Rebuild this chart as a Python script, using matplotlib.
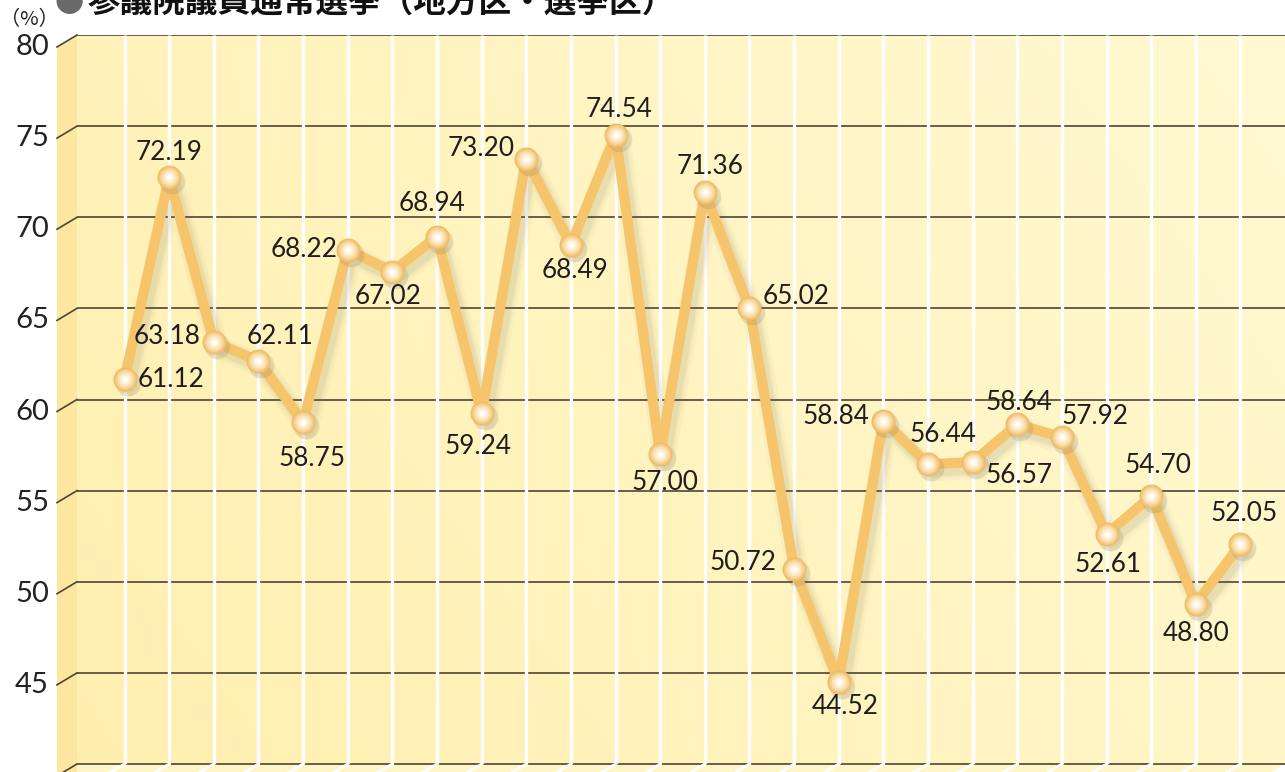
import numpy as np
import matplotlib
matplotlib.use('Agg')
import matplotlib.pyplot as plt
from matplotlib import transforms as mtransforms
from matplotlib.patches import Polygon
from matplotlib.lines import Line2D

# ---------------- data ----------------
title_mark = "●"
title = "参議院議員通常選挙（地方区・選挙区）"
unit_label = "（%）"
values = [61.12, 72.19, 63.18, 62.11, 58.75, 68.22, 67.02, 68.94, 59.24, 73.20,
          68.49, 74.54, 57.00, 71.36, 65.02, 50.72, 44.52, 58.84, 56.44, 56.57,
          58.64, 57.92, 52.61, 54.70, 48.80, 52.05]
y_ticks = [45, 50, 55, 60, 65, 70, 75, 80]
y_min, y_max = 40, 80

# label offsets (pixels, y up)
label_offsets = [(47, 0), (0, 25), (-47, 5), (22, 25), (9, -36), (-44, 0), (-4, -25),
                 (-5, 33), (-4, -33), (-45, 10), (4, -26), (4, 25), (5, -28), (5, 26),
                 (47, 12), (-51, 6), (6, -25), (-47, 4), (15, 30), (46, -13), (2, 22),
                 (33, 21), (1, -30), (7, 31), (0, -30), (4, 31)]

num_font = ['Lato', 'DejaVu Sans']
plt.rcParams['font.family'] = ['Lato', 'DejaVu Sans', 'Noto Sans CJK JP']

W, H, DPI = 1285, 772, 100
fig = plt.figure(figsize=(W / DPI, H / DPI), dpi=DPI)
fig.patch.set_facecolor('white')

L, R, T, B = 77, 1285, 35, 764
ax = fig.add_axes([L / W, 1 - B / H, (R - L) / W, (B - T) / H])
n = len(values)
xs = np.arange(n)
step = 44.64
x0 = -(124.5 - L) / step
x1 = x0 + (R - L) / step

# back wall gradient
gx = np.linspace(0, 1, 256)
gy = np.linspace(0, 1, 256)
GX, GY = np.meshgrid(gx, gy)
u = 0.7 * GX + 0.3 * GY
c0 = np.array([255, 239, 175]) / 255
c1 = np.array([255, 249, 210]) / 255
img = c0[None, None, :] * (1 - u[..., None]) + c1[None, None, :] * u[..., None]
ax.imshow(img, extent=[x0, x1, y_min, y_max], origin='lower', aspect='auto',
          zorder=0, interpolation='bilinear')
ax.set_xlim(x0, x1)
ax.set_ylim(y_min, y_max)
ax.set_axis_off()

# grid
ax.hlines(y_ticks, x0, x1, color='#4d4536', lw=1.2, zorder=1)
ax.hlines([y_min], x0, x1, color='#4d4536', lw=1.2, zorder=1, clip_on=False)
ax.vlines(xs, y_min, y_max, color='white', lw=2.4, zorder=2)

# 3D side wall and floor (display coords)
ident = mtransforms.IdentityTransform()
td = ax.transData
def disp(xx, yy):
    return np.array(td.transform((xx, yy)))
d = np.array([-20.0, -12.0])
bt = disp(x0, y_max)
bb = disp(x0, y_min)
br = disp(x1, y_min)
floor = Polygon([bb, br, br + 3 * d, bb + 3 * d], closed=True, facecolor='#fff6c8',
                edgecolor='none', transform=ident, zorder=0)
fig.add_artist(floor)
for xi in xs:
    p = disp(xi, y_min)
    fig.add_artist(Line2D([p[0], p[0] + 3 * d[0]], [p[1], p[1] + 3 * d[1]],
                          color='white', lw=2.0, transform=ident, zorder=1))
side = Polygon([bt, bb + [0, -20], bb + d + [0, -20], bt + d], closed=True,
               facecolor='#fde6a0', edgecolor='none', transform=ident, zorder=2)
fig.add_artist(side)
fig.add_artist(Line2D([bb[0], bb[0] + 3 * d[0]], [bb[1], bb[1] + 3 * d[1]],
                      color='#4d4536', lw=1.2, transform=ident, zorder=3))

for t in y_ticks:
    p = disp(x0, t)
    fig.add_artist(Line2D([p[0], p[0] + d[0]], [p[1], p[1] + d[1]],
                          color='#4d4536', lw=1.2, transform=ident, zorder=3))
    fig.text(p[0] + d[0] - 8, p[1] + d[1], str(t), transform=ident, ha='right',
             va='center', fontsize=21, color='#222222', family=num_font,
             fontweight='normal')

# line shadow
for lw, a in [(22, 0.04), (16, 0.05), (12, 0.07)]:
    sh = mtransforms.offset_copy(td, fig=fig, x=4, y=-6, units='dots')
    ax.plot(xs, values, color='#6f6656', lw=lw * 0.72, alpha=a, transform=sh,
            solid_joinstyle='round', solid_capstyle='round', zorder=3)

# main line
ax.plot(xs, values, color='#f6c56b', lw=7.3, solid_joinstyle='round',
        solid_capstyle='round', zorder=4)

# sphere markers
msh = mtransforms.offset_copy(td, fig=fig, x=3, y=-4, units='dots')
ax.plot(xs, values, 'o', ms=18.5, color='#6f6656', alpha=0.16, transform=msh,
        mec='none', zorder=5)
layers = [(24, '#f0ba63'), (22, '#f4c576'), (19, '#f7d393'), (16, '#fae0ae'),
          (12, '#fcecce'), (8, '#fef6e8'), (4, '#ffffff')]
for dpx, col in layers:
    ax.plot(xs, values, 'o', ms=dpx * 0.72, color=col, mec='none', zorder=6)

# value labels
for i, (v, off) in enumerate(zip(values, label_offsets)):
    ax.annotate(f"{v:.2f}", (xs[i], v), xytext=off, textcoords='offset pixels',
                ha='center', va='center', fontsize=18.8, color='#1e1e1e', zorder=10,
                annotation_clip=False, family=num_font, fontweight='normal')

# title and unit
fig.text(55 / W, 1 - 12 / H, title_mark, fontsize=21, color='#6a6a6a',
         family='Noto Sans CJK JP', va='baseline', ha='left')
fig.text(88 / W, 1 - 12 / H, title, fontsize=23.5, fontweight='bold', color='#111111',
         family='Noto Sans CJK JP', va='baseline', ha='left')
fig.text(0 / W, 1 - 20 / H, unit_label, fontsize=14.5, color='#222222',
         family='Noto Sans CJK JP', va='center', ha='left')

fig.savefig('out.png', dpi=DPI)
